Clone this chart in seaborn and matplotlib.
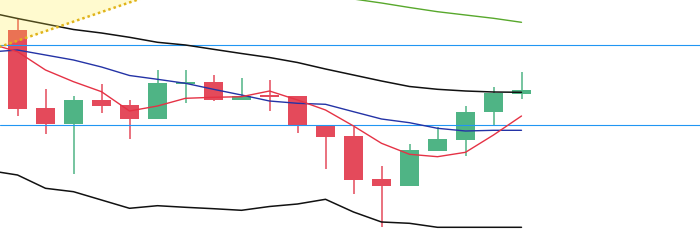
import numpy as np
import pandas as pd
import matplotlib
matplotlib.use("Agg")
import matplotlib.pyplot as plt
import seaborn as sns

# ---- data (price units, arbitrary scale) ----
candle_idx = list(range(19))
opens  = [216.0, 138.0, 122.3, 146.0, 141.0, 127.3, 162.3, 164.0, 146.3, 151.3,
          150.0, 120.7, 110.0, 67.0, 60.3, 95.3, 106.3, 134.3, 152.3]
highs  = [227.0, 157.0, 150.0, 162.0, 146.0, 176.0, 176.0, 171.0, 168.0, 166.0,
          150.0, 121.0, 119.3, 80.0, 102.0, 119.3, 140.0, 159.0, 173.7]
lows   = [130.3, 112.3, 71.7, 132.7, 106.7, 127.3, 143.3, 145.0, 146.3, 135.3,
          113.3, 77.3, 52.3, 18.7, 60.3, 95.3, 90.0, 120.7, 147.3]
closes = [137.3, 122.3, 146.0, 140.3, 127.3, 163.0, 164.0, 146.3, 149.7, 149.3,
          120.7, 109.3, 66.3, 60.3, 96.0, 107.0, 134.0, 153.0, 156.0]

line_idx = list(range(-1, 19))
band_upper = [233.5, 227.5, 222.0, 216.5, 213.0, 208.7, 203.7, 201.0, 196.7, 192.5,
              188.5, 183.5, 177.0, 171.0, 165.0, 159.5, 156.7, 155.0, 154.0, 153.7]
band_lower = [75.4, 71.0, 57.7, 54.3, 46.0, 37.7, 40.3, 38.7, 37.3, 35.7,
              39.5, 42.0, 46.7, 34.0, 24.0, 22.7, 18.7, 18.7, 18.7, 18.7]
ma_slow = [194.0, 196.0, 191.0, 186.0, 179.0, 170.5, 166.7, 162.7, 156.7, 151.0,
           145.0, 142.7, 141.7, 134.3, 127.0, 123.3, 117.7, 115.0, 115.7, 115.7]
ma_fast = [202.5, 194.3, 176.0, 164.3, 154.3, 135.0, 140.0, 147.7, 148.7, 149.3,
           155.0, 146.0, 136.0, 120.0, 102.7, 91.7, 89.3, 93.7, 111.0, 130.0]

long_idx = list(range(10, 19))
ma_long = [256.0, 251.0, 247.0, 243.0, 238.5, 234.3, 231.0, 227.7, 223.7]

levels = [201.0, 120.7]

trend_idx = [-1, 5]
trend_val = [195.7, 253.1]

# ---- style ----
sns.set_theme(style="white")
plt.rcParams['font.family'] = ['DejaVu Sans']

UP = "#4fb485"
DOWN = "#e44a5b"

fig = plt.figure(figsize=(7.0, 2.46), dpi=100)
ax = fig.add_axes([0, 0, 1, 1])

df = pd.DataFrame({"i": candle_idx, "o": opens, "h": highs, "l": lows, "c": closes})
df["up"] = df["c"] >= df["o"]
df["color"] = np.where(df["up"], UP, DOWN)
df["bottom"] = df[["o", "c"]].min(axis=1)
df["height"] = (df["c"] - df["o"]).abs().clip(lower=1.2)

# wicks
ax.vlines(df["i"], df["l"], df["h"], colors=df["color"], linewidth=1.1, zorder=2)
# bodies
ax.bar(df["i"], df["height"], bottom=df["bottom"], width=0.68,
       color=df["color"], linewidth=0, zorder=3)

# horizontal levels
for lv in levels:
    ax.axhline(lv, color="#2196f3", linewidth=0.8, zorder=4)

lines = pd.DataFrame({"i": line_idx, "upper": band_upper, "lower": band_lower,
                      "slow": ma_slow, "fast": ma_fast})
sns.lineplot(data=lines, x="i", y="upper", color="#111111", linewidth=1.1, ax=ax, zorder=5)
sns.lineplot(data=lines, x="i", y="lower", color="#111111", linewidth=1.1, ax=ax, zorder=5)
sns.lineplot(data=lines, x="i", y="slow", color="#2433a6", linewidth=1.0, ax=ax, zorder=5)
sns.lineplot(data=lines, x="i", y="fast", color="#e53245", linewidth=1.0, ax=ax, zorder=5)

longdf = pd.DataFrame({"i": long_idx, "v": ma_long})
sns.lineplot(data=longdf, x="i", y="v", color="#58a82c", linewidth=1.0, ax=ax, zorder=5)

# trend zone
ax.fill_between(trend_idx, trend_val, [300, 300], color="#ffec40", alpha=0.25,
                linewidth=0, zorder=6)
ax.plot(trend_idx, trend_val, color="#e0b31a", linewidth=1.8, linestyle=(0, (1, 1.2)),
        zorder=7)

ax.set_xlim(-0.625, 24.375)
ax.set_ylim(0, 246)
ax.set_xlabel("")
ax.set_ylabel("")
ax.set_xticks([])
ax.set_yticks([])
for s in ax.spines.values():
    s.set_visible(False)

fig.savefig("out.png", dpi=100)
